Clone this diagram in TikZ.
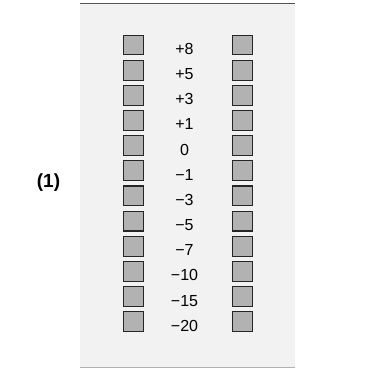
\documentclass[tikz,border=0pt]{standalone}
\usepackage{fontspec}
\setmainfont{Liberation Sans}
\begin{document}
\begin{tikzpicture}[x=1pt,y=-1pt]
	\tikzstyle{lamp}=[draw=black!85,line width=1.1pt,fill=black!30,minimum size=19.8pt,inner sep=0pt]
	\tikzstyle{level}=[font=\fontsize{16}{17}\selectfont,anchor=base,inner sep=0pt]
	\useasboundingbox (0,0) rectangle (370,368);
	\fill[black!5] (80,3) rectangle (295,367.5);
	\draw[black!67,line width=1.3pt] (80,3.6) -- (295,3.6);
	\draw[black!30,line width=1pt] (80,367) -- (295,367);
	\node (tag) at (48.5,183) {\fontsize{19}{20}\selectfont\bfseries (1)};
	\foreach \val [count=\i from 0] in {+8,+5,+3,+1,0,−1,−3,−5,−7,−10,−15,−20} {
		\node[lamp] (left\i) at (133.2,45+25.15*\i) {};
		\node[level] (val\i) at (184.5,54.5+25.15*\i) {\val};
		\node[lamp] (right\i) at (242.4,45+25.15*\i) {};
	}
\end{tikzpicture}
\end{document}
